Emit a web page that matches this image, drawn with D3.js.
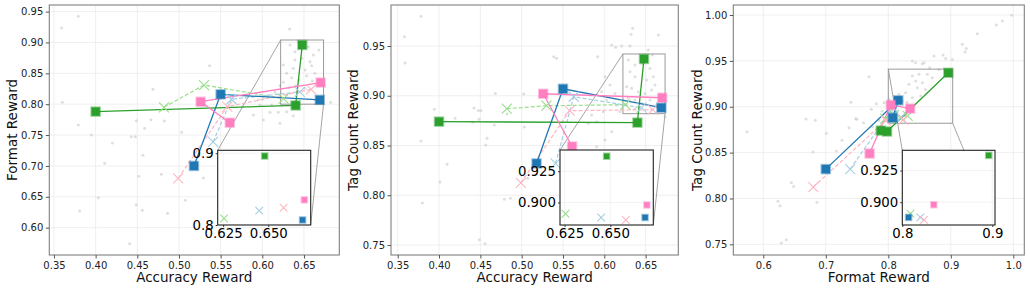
<!DOCTYPE html>
<html><head><meta charset="utf-8">
<script src="https://cdn.jsdelivr.net/npm/d3@7"></script>
<style>
body{margin:0;background:#fff}
svg{display:block}
text{font-family:"DejaVu Sans",sans-serif}
</style>
</head><body>
<svg id="c" width="1030" height="291"></svg>
<script>
// ---------- series data (checkpoints: accuracy, format, tag count) ----------
const seriesNames = ["green","blue","pink","lightgreen","lightblue","lightpink"];
const greenAcc = [0.400, 0.640, 0.648];
const greenFmt = [0.788, 0.798, 0.896];
const greenTag = [0.874, 0.873, 0.937];
const blueAcc = [0.518, 0.550, 0.669];
const blueFmt = [0.700, 0.816, 0.807];
const blueTag = [0.832, 0.907, 0.888];
const pinkAcc = [0.561, 0.526, 0.670];
const pinkFmt = [0.770, 0.804, 0.835];
const pinkTag = [0.849, 0.902, 0.898];
const lgreenAcc = [0.482, 0.530, 0.6255];
const lgreenFmt = [0.795, 0.831, 0.809];
const lgreenTag = [0.887, 0.890, 0.891];
const lblueAcc = [0.541, 0.563, 0.645];
const lblueFmt = [0.739, 0.808, 0.820];
const lblueTag = [0.832, 0.899, 0.888];
const lpinkAcc = [0.499, 0.558, 0.6585];
const lpinkFmt = [0.680, 0.796, 0.824];
const lpinkTag = [0.8125, 0.885, 0.886];

// ---------- background (grey) points per panel ----------
const bgAccFmt = [[0.3792,0.9423],[0.3592,0.9234],[0.360,0.803],[0.4688,0.8241],[0.3792,0.7663],[0.3948,0.7501],[0.420,0.737],[0.4488,0.7733],[0.4664,0.775],[0.4824,0.7728],[0.4588,0.761],[0.4428,0.7474],[0.4476,0.7474],[0.5032,0.7544],[0.4568,0.7172],[0.4108,0.7042],[0.4516,0.6832],[0.4788,0.6864],[0.4032,0.6486],[0.3808,0.627],[0.4488,0.6373],[0.456,0.628],[0.4864,0.6232],[0.5076,0.6443],[0.4408,0.5741],[0.5368,0.8624],[0.5292,0.6805],[0.6328,0.9218],
[0.6392,0.8851],[0.6392,0.8716],[0.6472,0.8743],[0.6572,0.8689],[0.6592,0.8624],[0.6372,0.8581],[0.6512,0.8554],[0.6632,0.850],[0.6292,0.850],[0.6352,0.843],[0.644,0.8392],[0.6532,0.8462],[0.660,0.8376],[0.6252,0.8354],[0.632,0.8268],[0.640,0.830],[0.6512,0.8257],[0.6212,0.830],[0.6152,0.8192],[0.6072,0.8138],[0.6012,0.8084],[0.6112,0.7987],[0.6232,0.7987],[0.6192,0.7868],[0.6292,0.7879],[0.6352,0.803],[0.6652,0.803],[0.682,0.803],[0.6012,0.7744],[0.5892,0.7825],[0.6212,0.769],[0.6372,0.7814],[0.6092,0.7868],[0.5764,0.796],[0.5952,0.8068],[0.6292,0.8149],[0.6252,0.8635],[0.6332,0.8959],[0.6432,0.9013],[0.6552,0.8932],[0.6612,0.8797],[0.668,0.8878],[0.5972,0.7987]];
const bgAccTag = [[0.3782,0.9798],[0.3581,0.9594],[0.3589,0.9329],[0.4681,0.9024],[0.5024,0.9018],[0.3944,0.8864],[0.4194,0.8773],[0.4423,0.8877],[0.4476,0.8853],[0.4508,0.8853],[0.4484,0.8763],[0.4407,0.8733],[0.4669,0.8706],[0.4823,0.8817],[0.5032,0.8686],[0.3782,0.8545],[0.4581,0.8572],[0.4565,0.8505],[0.4097,0.8311],[0.4012,0.8133],[0.3798,0.7922],[0.479,0.7959],[0.4863,0.7969],[0.5073,0.817],[0.4488,0.7554],[0.4556,0.7513],
[0.6343,0.9678],[0.6323,0.9617],[0.6653,0.9611],[0.6137,0.9487],[0.621,0.950],[0.6311,0.950],[0.5388,0.9393],[0.5423,0.9376],[0.5919,0.9393],[0.6089,0.951],[0.6532,0.946],[0.6581,0.941],
[0.629,0.9359],[0.6371,0.9309],[0.6451,0.9326],[0.6552,0.9275],[0.6592,0.9192],[0.631,0.9242],[0.6371,0.9192],[0.6512,0.9158],[0.6613,0.9108],[0.627,0.9091],[0.633,0.9075],[0.6411,0.9041],[0.6492,0.9024],[0.6572,0.9058],[0.629,0.8974],[0.6371,0.8957],[0.6451,0.8924],[0.6552,0.8957],[0.6633,0.8907],[0.627,0.8907],[0.6371,0.8873],
[0.6008,0.9192],[0.6068,0.9108],[0.6129,0.9024],[0.5967,0.9041],[0.6028,0.8957],[0.6149,0.8907],[0.6189,0.884],[0.5988,0.884],[0.5846,0.8807],[0.5907,0.874],[0.6089,0.8639],[0.6008,0.8555],[0.5907,0.8488],[0.5806,0.8723],[0.6734,0.879]];
const bgFmtTag = [[0.5739,0.8728],[0.7691,0.9328],[0.7403,0.9048],[0.6683,0.8866],[0.6832,0.8852],[0.7477,0.887],[0.7499,0.8863],[0.7008,0.871],[0.7259,0.8634],[0.7371,0.8772],[0.7605,0.8826],[0.7728,0.8972],[0.7808,0.9033],[0.6795,0.8507],[0.7168,0.8517],[0.6448,0.8172],[0.6485,0.8132],[0.6235,0.7969],[0.6267,0.7922],[0.6859,0.7958],[0.6288,0.7515],[0.6368,0.7551],
[0.9974,0.9996],[0.9824,0.9934],[0.9728,0.9891],[0.9424,0.9796],[0.9184,0.968],[0.9248,0.9636],[0.9227,0.9596],[0.9024,0.9516],[0.8875,0.9564],[0.8917,0.9527],[0.8731,0.9553],[0.8571,0.948],[0.8544,0.9469],[0.8384,0.9498],[0.8437,0.948],[0.8661,0.9426],[0.8811,0.9407],[0.8491,0.9353],[0.8624,0.9353],[0.8384,0.9335],[0.8437,0.928],[0.8544,0.9262],[0.8704,0.9317],[0.8331,0.9244],[0.8464,0.9208],[0.8597,0.9189],[0.8277,0.9153],[0.8384,0.9098],[0.8517,0.9117],[0.8171,0.9135],[0.8224,0.9062],[0.8117,0.9026],[0.8011,0.908],[0.7931,0.9044],[0.8064,0.8953],
[0.790,0.895],[0.800,0.905],[0.785,0.885],[0.810,0.898],[0.775,0.878],[0.795,0.870],[0.820,0.910],[0.830,0.905]];

// ---------- tick values ----------
const accTicks = [0.35,0.40,0.45,0.50,0.55,0.60,0.65];
const fmtTicksP1 = [0.60,0.65,0.70,0.75,0.80,0.85,0.90,0.95];
const tagTicksP2 = [0.75,0.80,0.85,0.90,0.95];
const fmtTicksP3 = [0.6,0.7,0.8,0.9,1.0];
const tagTicksP3 = [0.75,0.80,0.85,0.90,0.95,1.00];
const insetAccTicks = [0.625,0.650];
const insetFmtTicksP1 = [0.8,0.9];
const insetTagTicks = [0.900,0.925];
const insetFmtTicksP3 = [0.8,0.9];

// ---------- styling ----------
const colors = {green:"#2ca02c",blue:"#1f77b4",pink:"#ff7fc0",lightgreen:"#98df8a",lightblue:"#a6cee3",lightpink:"#ffb6c1"};
const data = {
  green:{acc:greenAcc,fmt:greenFmt,tag:greenTag,kind:"sq"},
  blue:{acc:blueAcc,fmt:blueFmt,tag:blueTag,kind:"sq"},
  pink:{acc:pinkAcc,fmt:pinkFmt,tag:pinkTag,kind:"sq"},
  lightgreen:{acc:lgreenAcc,fmt:lgreenFmt,tag:lgreenTag,kind:"x"},
  lightblue:{acc:lblueAcc,fmt:lblueFmt,tag:lblueTag,kind:"x"},
  lightpink:{acc:lpinkAcc,fmt:lpinkFmt,tag:lpinkTag,kind:"x"}
};
const drawOrder = ["lightgreen","lightblue","lightpink","green","blue","pink"];

const panels = [
  {l:49.3,r:339.3,t:5,b:255,xd:[0.3444,0.6924],yd:[0.5557,0.9607],xt:accTicks,yt:fmtTicksP1,xf:".2f",yf:".2f",
   xk:"acc",yk:"fmt",bg:bgAccFmt,xlabel:"Accuracy Reward",ylabel:"Format Reward",ylx:12,
   inset:{l:217.7,r:310.7,t:150.3,b:225,xd:[0.622,0.6735],yd:[0.800,0.904],xt:insetAccTicks,yt:insetFmtTicksP1,xf:".3f",yf:".1f"}},
  {l:391,r:678.3,t:5,b:255,xd:[0.3419,0.6895],yd:[0.740,0.9912],xt:accTicks,yt:tagTicksP2,xf:".2f",yf:".2f",
   xk:"acc",yk:"tag",bg:bgAccTag,xlabel:"Accuracy Reward",ylabel:"Tag Count Reward",ylx:353.3,
   inset:{l:560,r:653.3,t:150,b:225,xd:[0.6225,0.6735],yd:[0.882,0.942],xt:insetAccTicks,yt:insetTagTicks,xf:".3f",yf:".3f"}},
  {l:733.3,r:1024.3,t:5,b:255,xd:[0.552,1.0176],yd:[0.7384,1.0109],xt:fmtTicksP3,yt:tagTicksP3,xf:".1f",yf:".2f",
   xk:"fmt",yk:"tag",bg:bgFmtTag,xlabel:"Format Reward",ylabel:"Tag Count Reward",ylx:697.3,
   inset:{l:902.3,r:995,t:150.3,b:225,xd:[0.800,0.903],yd:[0.882,0.941],xt:insetFmtTicksP3,yt:insetTagTicks,xf:".1f",yf:".3f"}}
];

const svg = d3.select("#c");

function square(g, x, y, s, c){
  g.append("rect").attr("x",x-s/2).attr("y",y-s/2).attr("width",s).attr("height",s)
   .attr("fill",c).attr("stroke",c).attr("stroke-opacity",0.45).attr("stroke-width",2);
}
function cross(g, x, y, h, c){
  g.append("path").attr("d",`M${x-h},${y-h}L${x+h},${y+h}M${x-h},${y+h}L${x+h},${y-h}`)
   .attr("stroke",c).attr("stroke-width",1.1).attr("fill","none");
}

panels.forEach((p,i)=>{
  const x = d3.scaleLinear().domain(p.xd).range([p.l,p.r]);
  const y = d3.scaleLinear().domain(p.yd).range([p.b,p.t]);
  const clipId = "clip"+i;
  svg.append("clipPath").attr("id",clipId).append("rect")
     .attr("x",p.l).attr("y",p.t).attr("width",p.r-p.l).attr("height",p.b-p.t);
  const g = svg.append("g");
  const pg = g.append("g").attr("clip-path",`url(#${clipId})`);
  // grid
  p.xt.forEach(v=>pg.append("line").attr("x1",x(v)).attr("x2",x(v)).attr("y1",p.t).attr("y2",p.b).attr("stroke","#ebebeb").attr("stroke-width",0.8));
  p.yt.forEach(v=>pg.append("line").attr("y1",y(v)).attr("y2",y(v)).attr("x1",p.l).attr("x2",p.r).attr("stroke","#ebebeb").attr("stroke-width",0.8));
  // background points
  pg.selectAll(null).data(p.bg).enter().append("circle")
    .attr("cx",d=>x(d[0])).attr("cy",d=>y(d[1])).attr("r",1.5)
    .attr("fill","#c4c4c4").attr("fill-opacity",0.55);
  // zoom box and connectors
  const ins = p.inset;
  const bx0 = x(ins.xd[0]), bx1 = x(ins.xd[1]), by0 = y(ins.yd[1]), by1 = y(ins.yd[0]);
  pg.append("rect").attr("x",bx0).attr("y",by0).attr("width",bx1-bx0).attr("height",by1-by0)
    .attr("fill","none").attr("stroke","#9a9a9a").attr("stroke-width",1);
  pg.append("line").attr("x1",bx0).attr("y1",by0).attr("x2",ins.l).attr("y2",ins.t).attr("stroke","#9a9a9a").attr("stroke-width",0.9);
  pg.append("line").attr("x1",bx1).attr("y1",by1).attr("x2",ins.r).attr("y2",ins.b).attr("stroke","#9a9a9a").attr("stroke-width",0.9);
  // series lines
  drawOrder.forEach(k=>{
    const d = data[k];
    const pts = d[p.xk].map((v,j)=>[v,d[p.yk][j]]);
    pg.append("path").attr("d",d3.line().x(q=>x(q[0])).y(q=>y(q[1]))(pts))
      .attr("fill","none").attr("stroke",colors[k]).attr("stroke-width",d.kind==="sq"?1.3:1.2)
      .attr("stroke-dasharray",d.kind==="sq"?null:"4,2");
  });
  drawOrder.forEach(k=>{
    const d = data[k];
    d[p.xk].forEach((v,j)=>{
      if(d.kind==="sq") square(pg, x(v), y(d[p.yk][j]), 8.5, colors[k]);
      else cross(pg, x(v), y(d[p.yk][j]), 5, colors[k]);
    });
  });
  // frame
  g.append("rect").attr("x",p.l).attr("y",p.t).attr("width",p.r-p.l).attr("height",p.b-p.t)
   .attr("fill","none").attr("stroke","#808080").attr("stroke-width",1.1);
  // axes
  const ax = g.append("g").attr("transform",`translate(0,${p.b})`)
    .call(d3.axisBottom(x).tickValues(p.xt).tickFormat(d3.format(p.xf)).tickSize(3.5).tickPadding(3));
  const ay = g.append("g").attr("transform",`translate(${p.l},0)`)
    .call(d3.axisLeft(y).tickValues(p.yt).tickFormat(d3.format(p.yf)).tickSize(3.5).tickPadding(2.5));
  [ax,ay].forEach(a=>{
    a.select(".domain").remove();
    a.selectAll(".tick line").attr("stroke","#555");
    a.selectAll(".tick text").attr("fill","#222").style("font-size","10px").style("font-family","DejaVu Sans");
  });
  g.append("text").attr("x",(p.l+p.r)/2).attr("y",277).attr("text-anchor","middle").attr("dominant-baseline","central")
   .style("font-size","13.5px").attr("fill","#111").text(p.xlabel);
  g.append("text").attr("transform",`translate(${p.ylx},${(p.t+p.b)/2}) rotate(-90)`).attr("text-anchor","middle").attr("dominant-baseline","central")
   .style("font-size","13.5px").attr("fill","#111").text(p.ylabel);

  // ---------- inset ----------
  const ix = d3.scaleLinear().domain(ins.xd).range([ins.l,ins.r]);
  const iy = d3.scaleLinear().domain(ins.yd).range([ins.b,ins.t]);
  const icid = "iclip"+i;
  svg.append("clipPath").attr("id",icid).append("rect")
     .attr("x",ins.l).attr("y",ins.t).attr("width",ins.r-ins.l).attr("height",ins.b-ins.t);
  const ig = svg.append("g");
  ig.append("rect").attr("x",ins.l).attr("y",ins.t).attr("width",ins.r-ins.l).attr("height",ins.b-ins.t).attr("fill","#fff");
  const ipg = ig.append("g").attr("clip-path",`url(#${icid})`);
  ins.xt.forEach(v=>ipg.append("line").attr("x1",ix(v)).attr("x2",ix(v)).attr("y1",ins.t).attr("y2",ins.b).attr("stroke","#efefef").attr("stroke-width",0.8));
  ins.yt.forEach(v=>ipg.append("line").attr("y1",iy(v)).attr("y2",iy(v)).attr("x1",ins.l).attr("x2",ins.r).attr("stroke","#efefef").attr("stroke-width",0.8));
  drawOrder.forEach(k=>{
    const d = data[k];
    const j = d[p.xk].length-1;
    if(d.kind==="sq") square(ipg, ix(d[p.xk][j]), iy(d[p.yk][j]), 5.5, colors[k]);
    else cross(ipg, ix(d[p.xk][j]), iy(d[p.yk][j]), 3.8, colors[k]);
  });
  ig.append("rect").attr("x",ins.l).attr("y",ins.t).attr("width",ins.r-ins.l).attr("height",ins.b-ins.t)
    .attr("fill","none").attr("stroke","#222").attr("stroke-width",1.1);
  const iax = ig.append("g").attr("transform",`translate(0,${ins.b})`)
    .call(d3.axisBottom(ix).tickValues(ins.xt).tickFormat(d3.format(ins.xf)).tickSize(2).tickPadding(2));
  const iay = ig.append("g").attr("transform",`translate(${ins.l},0)`)
    .call(d3.axisLeft(iy).tickValues(ins.yt).tickFormat(d3.format(ins.yf)).tickSize(2).tickPadding(2));
  [iax,iay].forEach(a=>{
    a.select(".domain").remove();
    a.selectAll(".tick line").attr("stroke","#333");
    a.selectAll(".tick text").attr("fill","#000").style("font-size","13.3px").style("font-family","DejaVu Sans");
  });
});
</script>
</body></html>
